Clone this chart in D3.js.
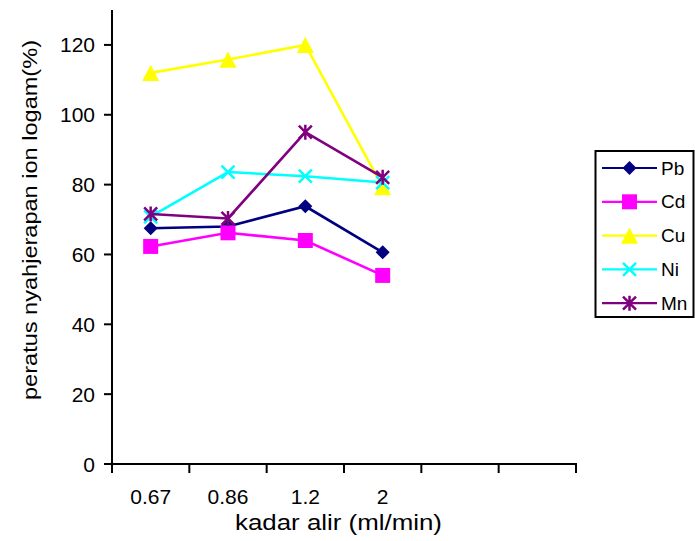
<!DOCTYPE html>
<html>
<head>
<meta charset="utf-8">
<script src="https://cdn.jsdelivr.net/npm/d3@7"></script>
<style>
  html, body { margin: 0; padding: 0; background: #fff; }
  svg { display: block; }
  text { font-family: "Liberation Sans", Arial, sans-serif; fill: #000; }
</style>
</head>
<body>
<svg id="chart" width="695" height="541"></svg>
<script>
// ---- data ----
const categories = ["0.67", "0.86", "1.2", "2", "", ""];
const yTicks = [0, 20, 40, 60, 80, 100, 120];
const seriesNames = ["Pb", "Cd", "Cu", "Ni", "Mn"];
const pb = [67.5, 68, 73.8, 60.6];
const cd = [62.3, 66.2, 64, 54];
const cu = [112, 115.8, 120, 79.3];
const ni = [70.8, 83.6, 82.4, 80.6];
const mn = [71.6, 70.3, 95, 82.1];
const seriesColors = ["#000080", "#FF00FF", "#FFFF00", "#00FFFF", "#800080"];
const seriesMarkers = ["diamond", "square", "triangle", "x", "asterisk"];
const seriesValues = [pb, cd, cu, ni, mn];

// ---- layout ----
const svg = d3.select("#chart");
const plot = { left: 112, right: 576, top: 10, bottom: 464 };

const x = d3.scaleBand().domain(d3.range(categories.length))
  .range([plot.left, plot.right]).padding(0);
const y = d3.scaleLinear().domain([0, 130]).range([plot.bottom, plot.top]);
const cx = i => x(i) + x.bandwidth() / 2;

function markerPath(type, s) {
  switch (type) {
    case "diamond": return `M0,${-s}L${s},0L0,${s}L${-s},0Z`;
    case "square": return `M${-s},${-s}H${s}V${s}H${-s}Z`;
    case "triangle": { const h = s * 0.95; return `M0,${-h}L${s},${h}L${-s},${h}Z`; }
    case "x": return `M${-s},${-s}L${s},${s}M${-s},${s}L${s},${-s}`;
    case "asterisk": return `M${-s},${-s}L${s},${s}M${-s},${s}L${s},${-s}M0,${-s * 1.15}V${s * 1.15}`;
  }
}
const markerSize = { diamond: 7, square: 7.5, triangle: 8.5, x: 6.5, asterisk: 6.5 };
function drawMarker(g, type, color, px, py) {
  const filled = type === "diamond" || type === "square" || type === "triangle";
  g.append("path")
    .attr("transform", `translate(${px},${py})`)
    .attr("d", markerPath(type, markerSize[type]))
    .attr("fill", filled ? color : "none")
    .attr("stroke", color)
    .attr("stroke-width", filled ? 0 : 2.5);
}

// ---- series ----
const line = d3.line().x((d, i) => cx(i)).y(d => y(d));
seriesValues.forEach((vals, k) => {
  const g = svg.append("g");
  g.append("path").attr("d", line(vals))
    .attr("fill", "none").attr("stroke", seriesColors[k]).attr("stroke-width", 2.6);
  vals.forEach((v, i) => drawMarker(g, seriesMarkers[k], seriesColors[k], cx(i), y(v)));
});

// ---- axes ----
const axes = svg.append("g");
axes.append("line").attr("x1", plot.left).attr("x2", plot.left)
  .attr("y1", plot.top).attr("y2", plot.bottom + 1)
  .attr("stroke", "#000").attr("stroke-width", 2);
axes.append("line").attr("x1", plot.left - 1).attr("x2", plot.right + 1)
  .attr("y1", plot.bottom).attr("y2", plot.bottom)
  .attr("stroke", "#000").attr("stroke-width", 2);

yTicks.forEach(t => {
  axes.append("line").attr("x1", plot.left - 8).attr("x2", plot.left)
    .attr("y1", y(t)).attr("y2", y(t)).attr("stroke", "#000").attr("stroke-width", 2);
  axes.append("text").attr("x", plot.left - 17).attr("y", y(t))
    .attr("text-anchor", "end").attr("dominant-baseline", "central")
    .attr("font-size", 21).text(t);
});

const boundaries = categories.map((c, i) => x(i)).concat([plot.right]);
boundaries.forEach(bx => {
  axes.append("line").attr("x1", bx).attr("x2", bx)
    .attr("y1", plot.bottom).attr("y2", plot.bottom + 9)
    .attr("stroke", "#000").attr("stroke-width", 2);
});
categories.forEach((c, i) => {
  axes.append("text").attr("x", cx(i)).attr("y", 504)
    .attr("text-anchor", "middle").attr("font-size", 21).text(c);
});

// axis titles
svg.append("text").attr("x", 338.5).attr("y", 530)
  .attr("text-anchor", "middle").attr("font-size", 22)
  .attr("textLength", 207).attr("lengthAdjust", "spacingAndGlyphs")
  .text("kadar alir (ml/min)");
svg.append("text").attr("transform", "translate(37,220) rotate(-90)")
  .attr("text-anchor", "middle").attr("font-size", 21)
  .attr("textLength", 360).attr("lengthAdjust", "spacingAndGlyphs")
  .text("peratus nyahjerapan ion logam(%)");

// ---- legend ----
const lg = svg.append("g");
lg.append("rect").attr("x", 595.5).attr("y", 151).attr("width", 98).attr("height", 166)
  .attr("fill", "#fff").attr("stroke", "#000").attr("stroke-width", 2);
seriesNames.forEach((name, k) => {
  const ly = 168 + k * 33.8;
  lg.append("line").attr("x1", 602).attr("x2", 657).attr("y1", ly).attr("y2", ly)
    .attr("stroke", seriesColors[k]).attr("stroke-width", 2.2);
  drawMarker(lg, seriesMarkers[k], seriesColors[k], 629.5, ly);
  lg.append("text").attr("x", 661).attr("y", ly).attr("dominant-baseline", "central")
    .attr("font-size", 19).text(name);
});
</script>
</body>
</html>
